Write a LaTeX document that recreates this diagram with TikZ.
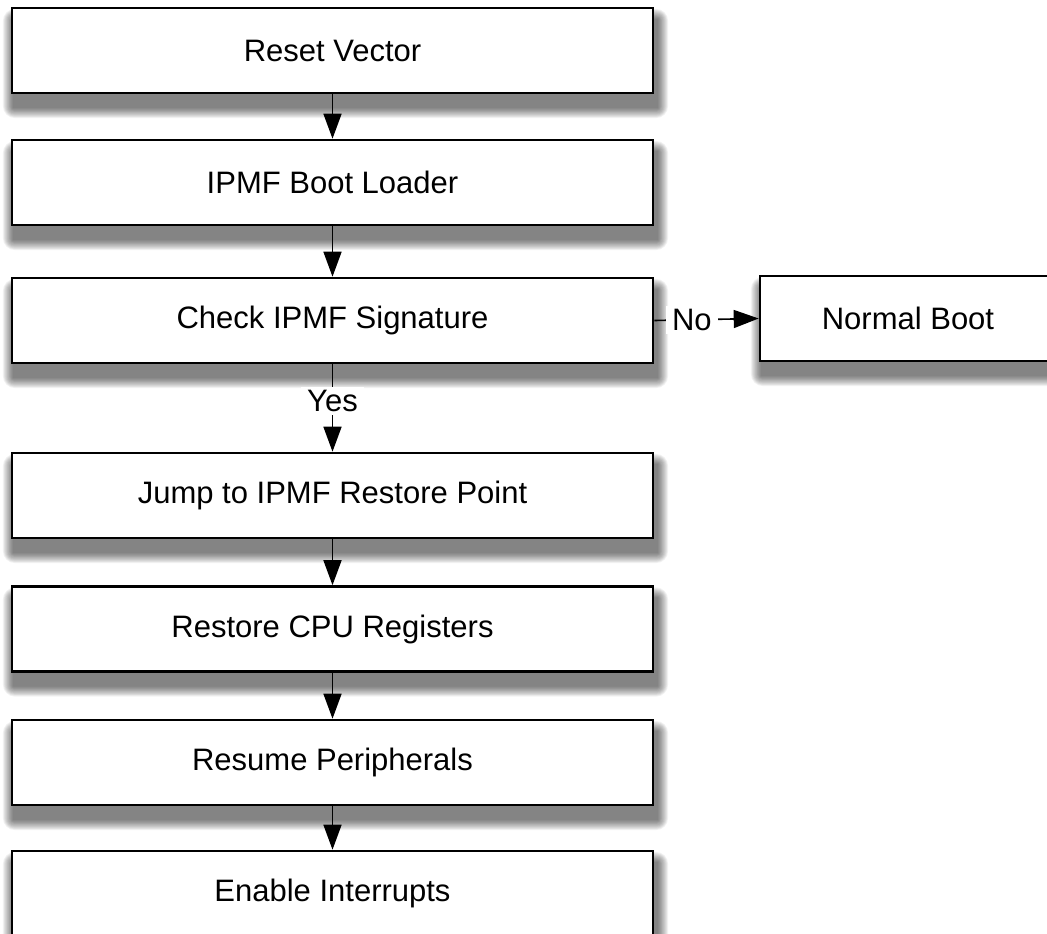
\documentclass[tikz,border=0pt]{standalone}
\usepackage{fontspec}
\setmainfont{Liberation Sans}
\usetikzlibrary{arrows.meta}
\pgfdeclarelayer{bg}
\pgfdeclarelayer{shadowlayer}
\pgfsetlayers{bg,shadowlayer,main}
\newcommand{\boxshadow}[1]{%
  \begin{pgfonlayer}{shadowlayer}
    \foreach \k in {1,...,12} {
      \pgfmathsetmacro{\ax}{3-\k*0.9}
      \pgfmathsetmacro{\ay}{-13+\k*0.9}
      \pgfmathsetmacro{\bx}{3+\k*0.9}
      \pgfmathsetmacro{\by}{-13-\k*0.9}
      \fill[black, opacity=0.05, rounded corners=\k pt]
        ([xshift=\ax pt, yshift=\ay pt]#1.north west)
        rectangle ([xshift=\bx pt, yshift=\by pt]#1.south east);
    }
  \end{pgfonlayer}}
\begin{document}
\begin{tikzpicture}[x=1pt,y=-1pt,
  stepbox/.style={draw=black, line width=2.6pt, fill=white, minimum width=641pt, minimum height=85pt, inner sep=0pt, font=\fontsize{31}{36}\selectfont},
  arr/.style={line width=1.6pt, -{Triangle[width=18pt,length=25pt]}},
  lbl/.style={fill=white, inner xsep=6pt, inner ysep=3pt, font=\fontsize{31}{36}\selectfont}]
\useasboundingbox (0,0) rectangle (1047,934);
\begin{pgfonlayer}{bg}
\fill[white] (0,0) rectangle (1047,934);
\end{pgfonlayer}
\node[stepbox] (b1) at (332.5,50.5) {Reset Vector};
\node[stepbox] (b2) at (332.5,182.5) {IPMF Boot Loader};
\node[stepbox] (b3) at (332.5,320.5) {Check IPMF Signature};
\node[stepbox, minimum width=296pt] (nb) at (908,318.5) {Normal Boot};
\node[stepbox] (b4) at (332.5,495.5) {Jump to IPMF Restore Point};
\node[stepbox] (b5) at (332.5,629) {Restore CPU Registers};
\node[stepbox] (b6) at (332.5,762.5) {Resume Peripherals};
\node[stepbox] (b7) at (332.5,893.5) {Enable Interrupts};
\foreach \n in {b1,b2,b3,nb,b4,b5,b6,b7} {\boxshadow{\n}}
\draw[arr] (b1) -- (b2);
\draw[arr] (b2) -- (b3);
\draw[arr] (b3) -- node[lbl, pos=0.42] {Yes} (b4);
\draw[arr] (b3.east) -- node[lbl, pos=0.36] {No} (nb.west);
\draw[arr] (b4) -- (b5);
\draw[arr] (b5) -- (b6);
\draw[arr] (b6) -- (b7);
\end{tikzpicture}
\end{document}
